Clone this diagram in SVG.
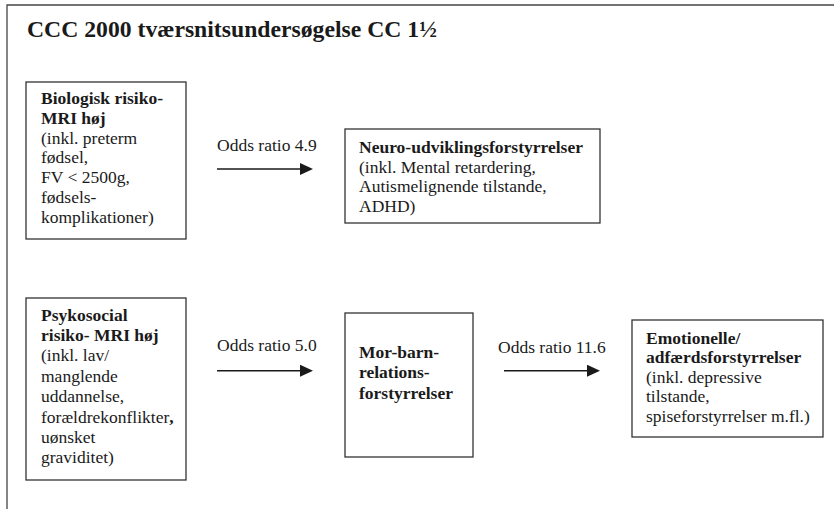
<svg xmlns="http://www.w3.org/2000/svg" width="834" height="509" viewBox="0 0 834 509">
<style>
text{font-family:"Liberation Serif","Times New Roman",serif;fill:#1a1a1a;}
.title{font-size:23.7px;font-weight:bold;}
.t{font-size:17.5px;}
.b{font-weight:bold;}
.box{fill:#fff;stroke:#333;stroke-width:1.3;}
.frame{fill:none;stroke:#444;stroke-width:1.3;}
.arr{stroke:#1a1a1a;stroke-width:1.4;fill:none;}
</style>
<defs>
<marker id="ah" viewBox="0 0 13 12" refX="0" refY="6" markerWidth="13" markerHeight="12" markerUnits="userSpaceOnUse" orient="auto">
<path d="M0,0 L13,6 L0,12 z" fill="#1a1a1a"/>
</marker>
</defs>
<rect width="834" height="509" fill="#fff"/>
<path class="frame" d="M7,509 V5 H834"/>
<text class="title" x="27" y="37">CCC 2000 tværsnitsundersøgelse CC 1½</text>

<g id="bio">
<rect class="box" x="26" y="82" width="160" height="157"/>
<text class="t" x="41" y="104">
<tspan class="b" x="41">Biologisk risiko-</tspan>
<tspan class="b" x="41" dy="19.8">MRI høj</tspan>
<tspan x="41" dy="19.8">(inkl. preterm</tspan>
<tspan x="41" dy="19.8">fødsel,</tspan>
<tspan x="41" dy="19.8">FV &lt; 2500g,</tspan>
<tspan x="41" dy="19.8">fødsels-</tspan>
<tspan x="41" dy="19.8">komplikationer)</tspan>
</text>
</g>

<g id="neuro">
<rect class="box" x="345" y="129" width="255" height="94"/>
<text class="t" x="359" y="153">
<tspan class="b" x="359">Neuro-udviklingsforstyrrelser</tspan>
<tspan x="359" dy="19.6">(inkl. Mental retardering,</tspan>
<tspan x="359" dy="19.6">Autismelignende tilstande,</tspan>
<tspan x="359" dy="19.6">ADHD)</tspan>
</text>
</g>

<g id="psyko">
<rect class="box" x="26" y="298" width="160" height="182"/>
<text class="t" x="41" y="320.5">
<tspan class="b" x="41">Psykosocial</tspan>
<tspan class="b" x="41" dy="20.4">risiko- MRI høj</tspan>
<tspan x="41" dy="20.4">(inkl. lav/</tspan>
<tspan x="41" dy="20.4">manglende</tspan>
<tspan x="41" dy="20.4">uddannelse,</tspan>
<tspan x="41" dy="20.4">forældrekonflikter<tspan class="b">,</tspan></tspan>
<tspan x="41" dy="20.4">uønsket</tspan>
<tspan x="41" dy="20.4">graviditet)</tspan>
</text>
</g>

<g id="morbarn">
<rect class="box" x="345" y="313" width="128" height="144"/>
<text class="t b" x="359" y="357.5">
<tspan x="359">Mor-barn-</tspan>
<tspan x="359" dy="20.5">relations-</tspan>
<tspan x="359" dy="20.5">forstyrrelser</tspan>
</text>
</g>

<g id="emo">
<rect class="box" x="632" y="320" width="191" height="117"/>
<text class="t" x="646" y="343.5">
<tspan class="b" x="646">Emotionelle/</tspan>
<tspan class="b" x="646" dy="19.6">adfærdsforstyrrelser</tspan>
<tspan x="646" dy="19.6">(inkl. depressive</tspan>
<tspan x="646" dy="19.6">tilstande,</tspan>
<tspan x="646" dy="19.6">spiseforstyrrelser m.fl.)</tspan>
</text>
</g>

<g id="connectors">
<text class="t" x="217" y="151">Odds ratio 4.9</text>
<line class="arr" x1="217" y1="169" x2="300" y2="169" marker-end="url(#ah)"/>
<text class="t" x="217" y="351">Odds ratio 5.0</text>
<line class="arr" x1="217" y1="370.7" x2="300" y2="370.7" marker-end="url(#ah)"/>
<text class="t" x="498" y="352.7">Odds ratio 11.6</text>
<line class="arr" x1="504" y1="370.7" x2="587" y2="370.7" marker-end="url(#ah)"/>
</g>
</svg>
